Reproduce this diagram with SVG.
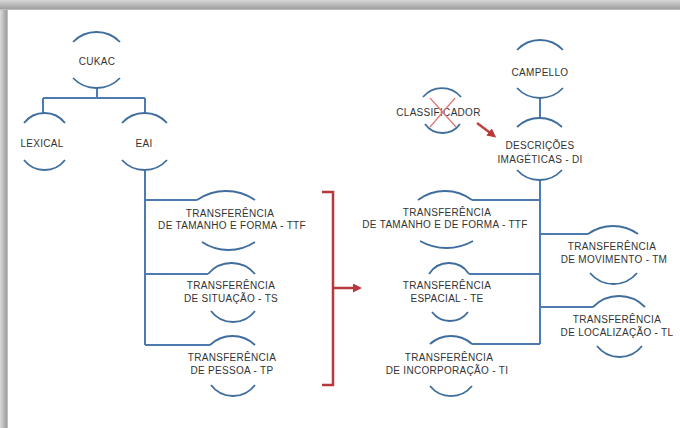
<svg xmlns="http://www.w3.org/2000/svg" width="680" height="428" viewBox="0 0 680 428">
<defs>
<linearGradient id="gTop" x1="0" y1="0" x2="0" y2="1">
<stop offset="0" stop-color="#d6d6d6"/>
<stop offset="0.85" stop-color="#a2a2a2"/>
<stop offset="1" stop-color="#c8c8c8"/>
</linearGradient>
<linearGradient id="gLeft" x1="0" y1="0" x2="1" y2="0">
<stop offset="0" stop-color="#dcdcdc"/>
<stop offset="0.8" stop-color="#a0a0a0"/>
<stop offset="1" stop-color="#cccccc"/>
</linearGradient>
<marker id="redHead" markerWidth="9" markerHeight="9" refX="5" refY="4.5" orient="auto" markerUnits="userSpaceOnUse">
<path d="M0,0 L9,4.5 L0,9 Z" fill="#b8393b"/>
</marker>
</defs>
<style>
.arc{fill:none;stroke:#3f6d9e;stroke-width:1.8}
.con{fill:none;stroke:#4d7ab0;stroke-width:2}
.red{fill:none;stroke:#b8393b;stroke-width:2.5}
text{font-family:"Liberation Sans",Arial,sans-serif;font-size:10px;fill:#333333;text-anchor:middle;letter-spacing:0.3px}
</style>
<rect x="0" y="0" width="680" height="428" fill="#ffffff"/>
<rect x="0" y="0" width="680" height="10" fill="url(#gTop)"/>
<rect x="0" y="10" width="8" height="418" fill="url(#gLeft)"/>

<g id="connectors">
<path class="con" d="M97,88 V98 M43,98 H145 M43,98 V113 M145,98 V113"/>
<path class="con" d="M145,171 V345 M145,200 H197 M145,274 H208 M145,345 H210"/>
<path class="con" d="M540,98 V118 M540,180 V344 M472,200 H540 M469,274 H540 M472,344 H540 M540,234 H588 M540,307 H593"/>
<path class="red" d="M322,192 H333 V385 H322"/>
<path class="red" d="M333,288 H358" marker-end="url(#redHead)"/>
<path d="M477,123 L493,135" fill="none" stroke="#c0403e" stroke-width="2.5" marker-end="url(#redHead)"/>
</g>

<g id="cukac">
<path class="arc" d="M73,42 A32.6,32.6 0 0 1 120,42"/>
<path class="arc" d="M73,78 A32.6,32.6 0 0 0 120,78"/>
<text x="97" y="64.5">CUKAC</text>
</g>
<g id="lexical">
<path class="arc" d="M24,123 A26,26 0 0 1 65,123"/>
<path class="arc" d="M24,160 A26,26 0 0 0 65,160"/>
<text x="42" y="146.5">LEXICAL</text>
</g>
<g id="eai">
<path class="arc" d="M122,123 A30.3,30.3 0 0 1 167,123"/>
<path class="arc" d="M122,160 A30.3,30.3 0 0 0 167,160"/>
<text x="144" y="146.5">EAI</text>
</g>
<g id="ttf-left">
<path class="arc" d="M197,200 A51.2,51.2 0 0 1 255,200"/>
<path class="arc" d="M202,242 A47.9,47.9 0 0 0 255,242"/>
<text x="230" y="216.5">TRANSFERÊNCIA</text>
<text x="232" y="228.5">DE TAMANHO E FORMA - TTF</text>
</g>
<g id="ts">
<path class="arc" d="M208,274 A30.6,30.6 0 0 1 255,274"/>
<path class="arc" d="M211,311 A27.5,27.5 0 0 0 255,311"/>
<text x="231" y="288.5">TRANSFERÊNCIA</text>
<text x="231" y="301.5">DE SITUAÇÃO - TS</text>
</g>
<g id="tp">
<path class="arc" d="M210,345 A32.6,32.6 0 0 1 255,345"/>
<path class="arc" d="M211,385 A27.5,27.5 0 0 0 255,385"/>
<text x="232" y="360.5">TRANSFERÊNCIA</text>
<text x="232" y="373.5">DE PESSOA - TP</text>
</g>

<g id="campello">
<path class="arc" d="M517,50 A31.5,31.5 0 0 1 563,50"/>
<path class="arc" d="M517,88 A31.5,31.5 0 0 0 563,88"/>
<text x="540" y="75.5">CAMPELLO</text>
</g>
<g id="classificador">
<path class="arc" d="M423,97 A24.6,24.6 0 0 1 461,97"/>
<path class="arc" d="M425,124 A21.5,21.5 0 0 0 460,124"/>
<text x="438.5" y="115.5">CLASSIFICADOR</text>
<path d="M430,98 L456,127 M455,98 L430,127" fill="none" stroke="#e07a7a" stroke-width="1.3"/>
</g>
<g id="di">
<path class="arc" d="M517,127 A32.6,32.6 0 0 1 562,127"/>
<path class="arc" d="M517,170 A30.3,30.3 0 0 0 562,170"/>
<text x="540" y="148.5">DESCRIÇÕES</text>
<text x="540" y="162.5">IMAGÉTICAS - DI</text>
</g>
<g id="ttf-right">
<path class="arc" d="M418,200 A45,45 0 0 1 472,200"/>
<path class="arc" d="M420,241 A53.6,53.6 0 0 0 473,241"/>
<text x="447" y="215.5">TRANSFERÊNCIA</text>
<text x="445" y="227.5">DE TAMANHO E DE FORMA - TTF</text>
</g>
<g id="te">
<path class="arc" d="M429,274 A23.7,23.7 0 0 1 469,274"/>
<path class="arc" d="M432,312 A22.5,22.5 0 0 0 468,312"/>
<text x="447" y="288.5">TRANSFERÊNCIA</text>
<text x="447" y="302">ESPACIAL - TE</text>
</g>
<g id="ti">
<path class="arc" d="M430,344 A31.6,31.6 0 0 1 472,344"/>
<path class="arc" d="M430,386 A27,27 0 0 0 472,386"/>
<text x="449" y="360.5">TRANSFERÊNCIA</text>
<text x="447" y="374">DE INCORPORAÇÃO - TI</text>
</g>
<g id="tm">
<path class="arc" d="M588,234 A43,43 0 0 1 638,234"/>
<path class="arc" d="M590,273 A30.6,30.6 0 0 0 637,273"/>
<text x="612" y="249.5">TRANSFERÊNCIA</text>
<text x="614" y="263">DE MOVIMENTO - TM</text>
</g>
<g id="tl">
<path class="arc" d="M593,307 A36.2,36.2 0 0 1 645,307"/>
<path class="arc" d="M597,346 A28.5,28.5 0 0 0 642,346"/>
<text x="617" y="322.5">TRANSFERÊNCIA</text>
<text x="617" y="336">DE LOCALIZAÇÃO - TL</text>
</g>
</svg>
